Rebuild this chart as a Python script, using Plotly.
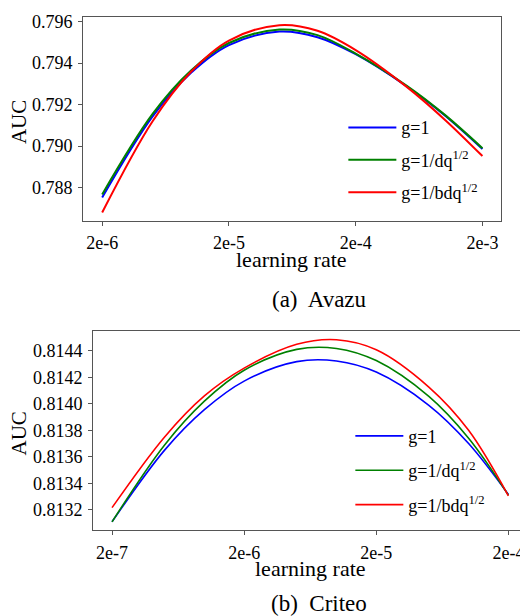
import plotly.graph_objects as go

# ---- data ----
lr_avazu = [2e-6, 5e-6, 1e-5, 2e-5, 5e-5, 1e-4, 2e-4, 5e-4, 1e-3, 2e-3]
avazu_g1 = [0.78752, 0.79143, 0.79352, 0.79487, 0.79552, 0.79525, 0.79443, 0.79290, 0.79150, 0.78986]
avazu_dq = [0.78767, 0.79155, 0.79363, 0.79497, 0.79562, 0.79535, 0.79446, 0.79293, 0.79153, 0.78990]
avazu_bdq = [0.78680, 0.79120, 0.79357, 0.79509, 0.79583, 0.79556, 0.79463, 0.79288, 0.79130, 0.78952]

lr_criteo = [2e-7, 5e-7, 1e-6, 2e-6, 5e-6, 1e-5, 2e-5, 5e-5, 1e-4, 2e-4]
criteo_g1 = [0.813108, 0.813650, 0.813956, 0.814172, 0.814319, 0.814324, 0.814240, 0.813989, 0.813700, 0.813315]
criteo_dq = [0.813108, 0.813689, 0.814020, 0.814254, 0.814412, 0.814419, 0.814327, 0.814056, 0.813740, 0.813310]
criteo_bdq = [0.813215, 0.813750, 0.814060, 0.814270, 0.814450, 0.814485, 0.814409, 0.814127, 0.813800, 0.813305]

names = ["g=1", "g=1/dq<sup>1/2</sup>", "g=1/bdq<sup>1/2</sup>"]
colors = ["#0000ff", "#008000", "#ff0000"]

avazu_xticks = [2e-6, 2e-5, 2e-4, 2e-3]
avazu_xtext = ["2e-6", "2e-5", "2e-4", "2e-3"]
avazu_yticks = [0.788, 0.790, 0.792, 0.794, 0.796]
criteo_xticks = [2e-7, 2e-6, 2e-5, 2e-4]
criteo_xtext = ["2e-7", "2e-6", "2e-5", "2e-4"]
criteo_yticks = [0.8132, 0.8134, 0.8136, 0.8138, 0.8140, 0.8142, 0.8144]

FONT = "Liberation Serif"
# page body has an 8px margin, so the figure is drawn 8px right/down
W, H = 520, 608
OFF = 8


def px(x):
    return (x - OFF) / W


def py(y):
    return 1 - (y - OFF) / H


fig = go.Figure()
for i, (ys, nm, c) in enumerate(zip([avazu_g1, avazu_dq, avazu_bdq], names, colors)):
    fig.add_trace(go.Scatter(x=lr_avazu, y=ys, name=nm, mode="lines",
                             line=dict(color=c, width=2, shape="spline"),
                             legendgroup="a%d" % i,
                             xaxis="x", yaxis="y", legend="legend"))
for i, (ys, nm, c) in enumerate(zip([criteo_g1, criteo_dq, criteo_bdq], names, colors)):
    fig.add_trace(go.Scatter(x=lr_criteo, y=ys, name=nm, mode="lines",
                             line=dict(color=c, width=1.6, shape="spline"),
                             legendgroup="b%d" % i,
                             xaxis="x2", yaxis="y2", legend="legend2"))

axis_common = dict(showline=True, mirror=True, linecolor="#555555", linewidth=1.2,
                   ticks="outside", ticklen=4, tickcolor="#555555", showgrid=False,
                   zeroline=False, ticklabelstandoff=2, ticklabeloverflow="allow",
                   tickfont=dict(family=FONT, size=18, color="black"))

legend_common = dict(xanchor="left", yanchor="top", bgcolor="rgba(0,0,0,0)",
                     font=dict(family=FONT, size=18, color="black"),
                     itemwidth=48)

fig.update_layout(
    width=W, height=H, margin=dict(l=0, r=0, t=0, b=0),
    paper_bgcolor="white", plot_bgcolor="white",
    font=dict(family=FONT, color="black"),
    xaxis=dict(type="log", range=[-5.849, -2.552], domain=[px(83.3), px(502)],
               tickvals=avazu_xticks, ticktext=avazu_xtext, anchor="y", **axis_common),
    yaxis=dict(range=[0.78641, 0.79624], domain=[py(217.3), py(11.7)],
               tickvals=avazu_yticks, tickformat=".3f", anchor="x", **axis_common),
    xaxis2=dict(type="log", range=[-6.842, -3.558], domain=[px(93.3), 1.0],
                tickvals=criteo_xticks, ticktext=criteo_xtext, anchor="y2", **axis_common),
    yaxis2=dict(range=[0.813046, 0.814548], domain=[py(529.3), py(329)],
                tickvals=criteo_yticks, tickformat=".4f", anchor="x2", **axis_common),
    legend=dict(x=px(344), y=py(105), tracegroupgap=6, **legend_common),
    legend2=dict(x=px(351), y=py(416), tracegroupgap=8, **legend_common),
    showlegend=True,
)

annots = [
    dict(text="AUC", x=19, y=118, textangle=-90, size=21),
    dict(text="learning rate", x=292, y=257, textangle=0, size=22),
    dict(text="(a)  Avazu", x=320, y=297, textangle=0, size=23),
    dict(text="AUC", x=19, y=432, textangle=-90, size=21),
    dict(text="learning rate", x=311, y=568, textangle=0, size=22),
    dict(text="(b)  Criteo", x=320, y=603, textangle=0, size=23),
]
for a in annots:
    fig.add_annotation(text=a["text"], x=px(a["x"]), y=py(a["y"]), xref="paper", yref="paper",
                       xanchor="center", yanchor="middle", showarrow=False,
                       textangle=a["textangle"], font=dict(family=FONT, size=a["size"], color="black"))

fig.write_html("out.html")
